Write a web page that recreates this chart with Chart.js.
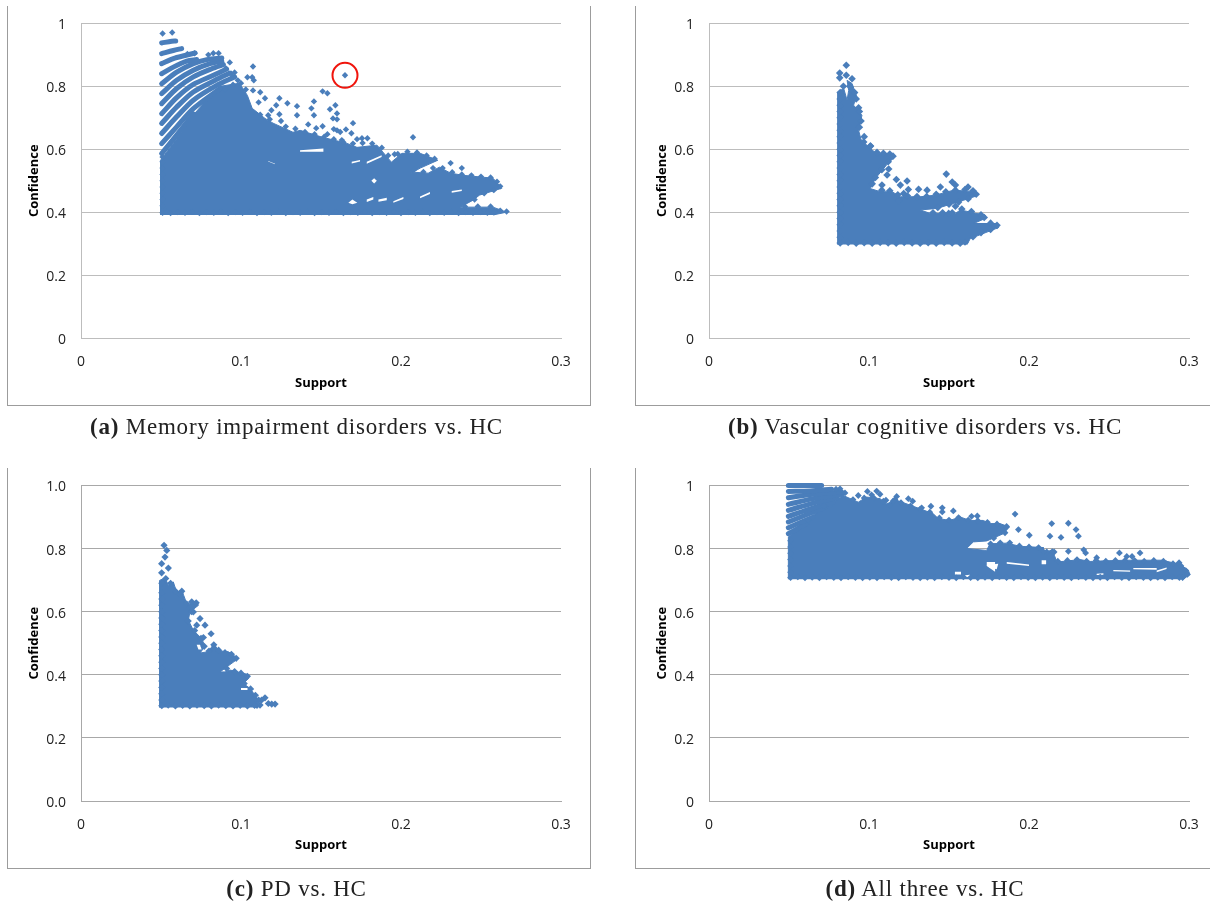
<!DOCTYPE html>
<html><head><meta charset="utf-8">
<script src="https://cdn.jsdelivr.net/npm/chart.js@4"></script>
<style>
html,body{margin:0;padding:0;background:#fff;width:1210px;height:901px;overflow:hidden}
.frame{position:absolute;box-sizing:border-box;border:1px solid #9c9c9c;border-top:none}
canvas{position:absolute}
.cap{position:absolute;text-align:center;font-family:"Liberation Serif",serif;font-size:23px;letter-spacing:.78px;color:#222;line-height:24px;white-space:nowrap}
</style></head><body>
<div class="frame" style="left:7px;top:6px;width:584px;height:400px"></div>
<div class="frame" style="left:635px;top:6px;width:580px;height:400px"></div>
<div class="frame" style="left:7px;top:468px;width:584px;height:401px"></div>
<div class="frame" style="left:635px;top:468px;width:580px;height:401px"></div>
<canvas id="a" width="600" height="420" style="left:0;top:0"></canvas>
<canvas id="b" width="600" height="420" style="left:628px;top:0"></canvas>
<canvas id="c" width="600" height="420" style="left:0;top:462px"></canvas>
<canvas id="d" width="600" height="420" style="left:628px;top:462px"></canvas>
<div class="cap" style="left:0;width:593px;top:415px"><b>(a)</b> Memory impairment disorders vs. HC</div>
<div class="cap" style="left:628px;width:594px;top:415px"><b>(b)</b> Vascular cognitive disorders vs. HC</div>
<div class="cap" style="left:0;width:593px;top:877px"><b>(c)</b> PD vs. HC</div>
<div class="cap" style="left:628px;width:594px;top:877px"><b>(d)</b> All three vs. HC</div>
<script>
const xTickLabels=['0','0.1','0.2','0.3'];
const yTickLabelsPlain=['0','0.2','0.4','0.6','0.8','1'];
const yTickLabelsFixed=['0.0','0.2','0.4','0.6','0.8','1.0'];
const circledRule=[[0.165,0.835]];

// Outline of the saturated part of each cloud [support, confidence]
const aMass=[[.0497,.391],[.0497,.565],[.06,.635],[.07,.708],[.08,.765],[.087,.8],[.099,.81],[.104,.771],[.107,.73],[.115,.698],[.12,.683],[.1325,.654],[.137,.66],[.151,.638],[.166,.619],[.1725,.606],[.185,.613],[.194,.559],[.2006,.587],[.212,.587],[.223,.565],[.212,.54],[.204,.517],[.2,.508],[.2075,.527],[.217,.524],[.224,.543],[.231,.524],[.239,.517],[.2575,.508],[.263,.476],[.249,.454],[.245,.438],[.237,.416],[.2575,.416],[.266,.4],[.2575,.391]];
const bMass=[[.0804,.297],[.0804,.724],[.0804,.782],[.0842,.793],[.0863,.756],[.0873,.787],[.0863,.819],[.0894,.809],[.0921,.771],[.0904,.74],[.0956,.708],[.0935,.66],[.095,.631],[.1008,.602],[.105,.586],[.1144,.586],[.1158,.574],[.1113,.552],[.104,.507],[.1008,.475],[.1071,.465],[.1144,.465],[.1196,.449],[.1321,.449],[.1415,.454],[.1529,.47],[.1665,.465],[.1675,.452],[.1592,.438],[.1425,.412],[.1321,.407],[.1383,.396],[.154,.396],[.1571,.407],[.1727,.39],[.1727,.38],[.1654,.364],[.18,.364],[.181,.351],[.1633,.316],[.1613,.297]];
const cMass=[[.0491,.296],[.0491,.678],[.0491,.699],[.0525,.707],[.0546,.684],[.0577,.694],[.0598,.662],[.0629,.668],[.065,.641],[.0661,.62],[.0723,.631],[.0734,.62],[.0681,.599],[.0671,.573],[.0702,.541],[.0754,.515],[.0775,.49],[.0744,.469],[.0796,.473],[.0831,.499],[.0859,.476],[.0921,.473],[.0973,.455],[.0963,.444],[.0869,.409],[.09,.409],[.0931,.415],[.1036,.402],[.1046,.388],[.1015,.372],[.1056,.357],[.1088,.335],[.1109,.32],[.1088,.296]];
const dMass=[[.0496,.703],[.0496,.837],[.061,.889],[.0714,.931],[.0839,.968],[.0933,.947],[.0985,.963],[.1069,.958],[.111,.942],[.1173,.953],[.1319,.926],[.1402,.91],[.1433,.895],[.1506,.889],[.1569,.9],[.1631,.889],[.1714,.889],[.1756,.879],[.1819,.879],[.1877,.868],[.184,.847],[.1736,.824],[.1652,.821],[.161,.8],[.1735,.794],[.1756,.815],[.1861,.817],[.1944,.807],[.209,.803],[.209,.789],[.2142,.794],[.2163,.773],[.2173,.757],[.2319,.765],[.2382,.759],[.2475,.761],[.2611,.763],[.283,.763],[.2944,.75],[.2996,.731],[.3006,.718],[.2965,.703]];

// Small empty pockets inside each cloud
const aHoles=[
[[.1369,.597],[.1515,.602],[.1515,.592],[.1369,.592]],
[[.1786,.56],[.1879,.581],[.1879,.575],[.1786,.554]],
[[.1815,.4995],[.1832,.508],[.1849,.4995],[.1832,.491]],
[[.1671,.43],[.1696,.44],[.1727,.43],[.1696,.425]],
[[.1786,.44],[.1827,.448],[.1827,.44],[.1786,.432]],
[[.1859,.44],[.1911,.446],[.1911,.438],[.1859,.433]],
[[.1952,.435],[.2015,.448],[.2015,.442],[.1952,.43]],
[[.2119,.45],[.2181,.464],[.2181,.458],[.2119,.444]],
[[.2317,.467],[.238,.472],[.238,.467],[.2317,.462]],
[[.1692,.56],[.1744,.566],[.1744,.561],[.1692,.555]],
[[.117,.563],[.1213,.554],[.1213,.552],[.117,.561]]];
const bHoles=[];
const cHoles=[
[[.0723,.495],[.0744,.495],[.0754,.48],[.0734,.48]],
[[.1,.358],[.1046,.358],[.1046,.352],[.1,.352]]];
const dHoles=[
[[.1736,.757],[.1788,.757],[.1788,.726],[.1736,.745]],
[[.1861,.757],[.2,.749],[.2,.745],[.1861,.752]],
[[.2079,.763],[.2107,.763],[.2107,.75],[.2079,.75]],
[[.2423,.72],[.2465,.722],[.2465,.717],[.2423,.716]],
[[.2527,.732],[.2632,.73],[.2632,.726],[.2527,.728]],
[[.2652,.738],[.2798,.738],[.2798,.733],[.2652,.734]],
[[.2798,.73],[.286,.74],[.286,.735],[.2798,.725]],
[[.1735,.748],[.1808,.752],[.1798,.734],[.1756,.74]],
[[.1537,.726],[.1575,.726],[.1575,.718],[.1537,.718]],
[[.16,.715],[.1631,.717],[.1631,.71],[.16,.71]]];

// Visible arcs of rules
const aArcs=[
[[.0504,.938],[.0567,.943],[.0592,.944]],
[[.0504,.904],[.0577,.914],[.0629,.92]],
[[.0504,.872],[.0577,.888],[.065,.898],[.0713,.906]],
[[.0504,.84],[.0577,.861],[.0661,.88],[.0723,.885]],
[[.0504,.808],[.0598,.845],[.0702,.872],[.0786,.885],[.088,.89]],
[[.0504,.777],[.0598,.819],[.0702,.851],[.0806,.872],[.088,.88]],
[[.0504,.745],[.0598,.793],[.0702,.83],[.0817,.856],[.089,.869]],
[[.0504,.713],[.0598,.764],[.0702,.806],[.0827,.835],[.091,.855]],
[[.0504,.682],[.0598,.734],[.0702,.782],[.0838,.819],[.093,.842]],
[[.0504,.65],[.0598,.703],[.0702,.756],[.0848,.803],[.096,.83]],
[[.0504,.618],[.0598,.671],[.0702,.729],[.0869,.793]],
[[.0504,.586],[.0598,.645],[.0702,.712]]];
const bArcs=[];
const cArcs=[];
const dArcs=[
[[.0496,1],[.0704,1]],
[[.0496,.981],[.0631,.982],[.0766,.988]],
[[.0496,.961],[.0652,.972],[.0829,.979]],
[[.0496,.94],[.0652,.958],[.0829,.972]],
[[.0496,.921],[.0652,.944],[.0798,.961]],
[[.0496,.902],[.0652,.929],[.0777,.947]],
[[.0496,.884],[.0652,.916],[.0756,.937]],
[[.0496,.866],[.0652,.9]],
[[.0496,.847],[.061,.879]]];

// Separate rules outside the saturated area
const aPoints=[[.051,.968],[.057,.971],[.0796,.9],[.0827,.905],[.086,.905],[.0665,.903],[.071,.905],[.093,.876],[.1075,.863],[.0906,.857],[.096,.844],[.094,.84],[.098,.819],[.104,.829],[.107,.829],[.108,.819],[.165,.835],[.151,.784],[.154,.778],[.1456,.752],[.159,.74],[.1556,.727],[.16,.714],[.144,.73],[.1456,.708],[.1575,.698],[.16,.695],[.17,.683],[.1656,.663],[.169,.651],[.124,.762],[.129,.746],[.135,.737],[.122,.74],[.119,.724],[.124,.711],[.135,.708],[.115,.762],[.112,.781],[.1075,.787],[.117,.708],[.111,.749],[.142,.679],[.147,.667],[.151,.673],[.154,.648],[.16,.66],[.163,.629],[.1725,.632],[.1756,.635],[.179,.635],[.2075,.638],[.231,.556],[.238,.54],[.196,.584],[.158,.664],[.162,.655]];
const bPoints=[[.0858,.867],[.0817,.842],[.0817,.827],[.0858,.835],[.0894,.824],[.0935,.732],[.0967,.623],[.1008,.61],[.1123,.537],[.1113,.518],[.1171,.504],[.1081,.486],[.1238,.499],[.1196,.486],[.1483,.521],[.152,.496],[.1446,.48],[.154,.486],[.1619,.48],[.131,.473],[.1363,.47],[.1246,.472],[.1217,.459],[.1185,.436],[.154,.419],[.1498,.396]];
const cPoints=[[.0519,.81],[.0536,.794],[.0525,.773],[.0504,.752],[.0546,.738],[.0504,.723],[.0619,.657],[.0692,.631],[.0702,.599],[.0744,.578],[.0723,.557],[.0775,.557],[.0813,.53],[.0765,.518],[.115,.327],[.1129,.32],[.1192,.307],[.1171,.309],[.1213,.307],[.1119,.304]];
const dPoints=[[.099,.981],[.1048,.982],[.0933,.968],[.1016,.97],[.1069,.972],[.1106,.953],[.1173,.965],[.1162,.955],[.1246,.958],[.1273,.95],[.1131,.937],[.1387,.934],[.1329,.929],[.1458,.929],[.1458,.916],[.1527,.919],[.1641,.902],[.1677,.903],[.085,.976],[.0819,.989],[.0794,.988],[.1913,.909],[.1934,.86],[.2002,.842],[.2142,.879],[.2246,.88],[.2294,.86],[.2131,.839],[.22,.835],[.2309,.839],[.2246,.791],[.2342,.796],[.2354,.786],[.2423,.771],[.2565,.786],[.2611,.775],[.2644,.775],[.2694,.786],[.2938,.755],[.2857,.752],[.2111,.789],[.2157,.789]];

// Rules along the rim of each cloud
const aRim=[[.112,.71],[.118,.695],[.125,.69],[.128,.672],[.134,.665],[.14,.655],[.146,.648],[.152,.64],[.158,.632],[.164,.622],[.17,.618],[.176,.62],[.182,.618],[.188,.605],[.192,.58],[.198,.585],[.204,.592],[.21,.59],[.216,.58],[.221,.57],[.208,.535],[.214,.528],[.22,.54],[.226,.54],[.232,.527],[.238,.52],[.244,.517],[.25,.513],[.256,.51],[.26,.497],[.262,.482],[.258,.47],[.252,.46],[.246,.44],[.24,.418],[.248,.418],[.256,.418],[.262,.405],[.266,.402],[.09,.79],[.095,.805],[.1,.81],[.103,.79],
[.051,.398],[.0535,.401],[.056,.397],[.0605,.4],[.065,.398],[.0695,.401],[.074,.397],[.0785,.4],[.083,.398],[.0875,.401],[.092,.397],[.0965,.4],[.101,.398],[.1055,.401],[.11,.397],[.1145,.4],[.119,.398],[.1235,.401],[.128,.397],[.1325,.4],[.137,.398],[.1415,.401],[.146,.397],[.1505,.4],[.155,.398],[.1595,.401],[.164,.397],[.1685,.4],[.173,.398],[.1775,.401],[.182,.397],[.1865,.4],[.191,.398],[.1955,.401],[.2,.397],[.2045,.4],[.209,.398],[.2135,.401],[.218,.397],[.2225,.4],[.227,.398],[.2315,.401],[.236,.397],[.2405,.4],[.245,.398],[.2495,.4],[.254,.398],[.2585,.4],
[.051,.42],[.051,.44],[.051,.46],[.051,.48],[.051,.5],[.051,.52],[.051,.54],[.051,.56],[.051,.575]];
const bRim=[[.084,.8],[.088,.8],[.091,.78],[.092,.76],[.094,.72],[.095,.69],[.094,.67],[.097,.64],[.101,.61],[.105,.59],[.109,.587],[.113,.585],[.115,.578],[.112,.56],[.108,.535],[.104,.51],[.102,.49],[.108,.47],[.113,.468],[.118,.455],[.124,.452],[.13,.45],[.136,.45],[.142,.457],[.148,.465],[.154,.47],[.16,.472],[.165,.468],[.167,.457],[.162,.443],[.156,.432],[.15,.425],[.143,.415],[.14,.398],[.146,.398],[.152,.398],[.158,.41],[.164,.402],[.17,.392],[.172,.383],[.176,.365],[.18,.358],[.176,.345],[.17,.335],[.165,.322],[.16,.305],
[.082,.302],[.087,.304],[.092,.301],[.097,.303],[.102,.301],[.107,.304],[.112,.302],[.117,.301],[.122,.304],[.127,.302],[.132,.301],[.137,.303],[.142,.301],[.147,.304],[.152,.302],[.157,.301],
[.082,.32],[.082,.34],[.082,.36],[.082,.38],[.082,.4],[.082,.42],[.082,.44],[.082,.46],[.082,.48],[.082,.5],[.082,.52],[.082,.54],[.082,.56],[.082,.58],[.082,.6],[.082,.62],[.082,.64],[.082,.66],[.082,.68],[.082,.7],[.082,.72],[.082,.74],[.082,.76],[.082,.78]];
const cRim=[[.0505,.69],[.053,.705],[.056,.69],[.059,.665],[.063,.665],[.066,.625],[.072,.628],[.069,.6],[.067,.57],[.071,.54],[.075,.515],[.077,.49],[.08,.475],[.083,.495],[.086,.478],[.09,.47],[.094,.465],[.097,.452],[.091,.42],[.096,.41],[.1,.405],[.104,.395],[.102,.372],[.106,.355],[.109,.335],[.111,.32],[.11,.303],
[.0505,.302],[.0545,.304],[.059,.301],[.0635,.303],[.068,.301],[.0725,.304],[.077,.302],[.0815,.301],[.086,.304],[.0905,.302],[.095,.301],[.0995,.303],[.104,.301],[.1085,.303],
[.0505,.32],[.0505,.34],[.0505,.36],[.0505,.38],[.0505,.4],[.0505,.42],[.0505,.44],[.0505,.46],[.0505,.48],[.0505,.5],[.0505,.52],[.0505,.54],[.0505,.56],[.0505,.58],[.0505,.6],[.0505,.62],[.0505,.64],[.0505,.66]];
const dRim=[[.062,.89],[.072,.935],[.09,.955],[.097,.96],[.103,.96],[.109,.95],[.115,.95],[.12,.945],[.126,.935],[.132,.925],[.138,.915],[.144,.897],[.15,.89],[.156,.898],[.162,.89],[.168,.888],[.174,.883],[.18,.878],[.186,.87],[.185,.85],[.178,.833],[.176,.815],[.182,.818],[.188,.818],[.194,.808],[.2,.805],[.206,.803],[.209,.79],[.2145,.79],[.218,.76],[.224,.762],[.23,.765],[.236,.76],[.242,.762],[.248,.76],[.254,.762],[.26,.762],[.266,.762],[.272,.76],[.278,.762],[.284,.76],[.29,.752],[.295,.745],[.298,.73],[.299,.718],[.296,.708],
[.051,.708],[.0555,.71],[.06,.707],[.0645,.709],[.069,.707],[.0735,.71],[.078,.708],[.0825,.707],[.087,.71],[.0915,.708],[.096,.707],[.1005,.709],[.105,.707],[.1095,.71],[.114,.708],[.1185,.707],[.123,.71],[.1275,.708],[.132,.707],[.1365,.709],[.141,.707],[.1455,.71],[.15,.708],[.1545,.707],[.159,.71],[.1635,.708],[.168,.707],[.1725,.709],[.177,.707],[.1815,.71],[.186,.708],[.1905,.707],[.195,.71],[.1995,.708],[.204,.707],[.2085,.709],[.213,.707],[.2175,.71],[.222,.708],[.2265,.707],[.231,.71],[.2355,.708],[.24,.707],[.2445,.709],[.249,.707],[.2535,.71],[.258,.708],[.2625,.707],[.267,.71],[.2715,.708],[.276,.707],[.2805,.709],[.285,.707],[.2895,.71],[.294,.708],
[.051,.725],[.051,.745],[.051,.765],[.051,.785],[.051,.805],[.051,.825]];

const BLUE='#4a7ebb';
const TICKFONT='"Open Sans"', TITLEFONT='"Open Sans"';

function build(id,mass,holes,arcs,points,rim,yLabels,extra,plot){
  // The first dataset is painted last, so the order here runs from top to bottom.
  const datasets=[
    ...extra,
    {data:points.concat(rim),showLine:false,pointStyle:'rectRot',pointRadius:plot.r,backgroundColor:BLUE,borderWidth:0,clip:false},
    ...arcs.map(a=>({data:a,showLine:true,fill:false,borderColor:BLUE,borderWidth:5,borderCapStyle:'round',borderJoinStyle:'round',tension:.3,pointRadius:0,clip:false})),
    ...holes.map(h=>({data:h,showLine:true,fill:'shape',backgroundColor:'#ffffff',borderColor:'#ffffff',borderWidth:0,pointRadius:0,clip:false})),
    {data:mass,showLine:true,fill:'shape',backgroundColor:BLUE,borderColor:BLUE,borderWidth:1,pointRadius:0,clip:false}
  ];
  new Chart(document.getElementById(id),{type:'scatter',data:{datasets},options:{
    responsive:false,animation:false,events:[],
    layout:{padding:{top:plot.top,right:39,left:0,bottom:0}},
    plugins:{legend:{display:false},tooltip:{enabled:false},title:{display:false}},
    scales:{
      x:{type:'linear',min:0,max:.3,
        afterFit(s){s.height=420-plot.bottom},
        grid:{display:false,drawTicks:false},
        border:{display:true,color:plot.grid,width:1},
        ticks:{stepSize:.1,padding:16,maxRotation:0,autoSkip:false,color:'#222',font:{family:TICKFONT,size:14},
          callback:(v,i)=>xTickLabels[i]},
        title:{display:true,text:'Support',color:'#000',font:{family:TITLEFONT,size:13,weight:'bold'},padding:{top:0,bottom:29}}},
      y:{type:'linear',min:0,max:1,
        afterFit(s){s.width=81},
        grid:{color:plot.grid,lineWidth:1,drawTicks:false},
        border:{display:true,color:plot.grid,width:1},
        ticks:{stepSize:.2,padding:15,labelOffset:2,autoSkip:false,color:'#222',font:{family:TICKFONT,size:14},
          callback:(v,i)=>yLabels[i]},
        title:{display:true,text:'Confidence',color:'#000',font:{family:TITLEFONT,size:13,weight:'bold'},padding:{top:26,bottom:0}}}
    }}});
}
const ring=[{data:circledRule,showLine:false,pointStyle:'circle',pointRadius:12.5,backgroundColor:'rgba(0,0,0,0)',borderColor:'#f0140c',borderWidth:2,clip:false}];
build('a',aMass,aHoles,aArcs,aPoints,aRim,yTickLabelsPlain,ring,{top:23,bottom:338,r:3.2,grid:'#bdbdbd'});
build('b',bMass,bHoles,bArcs,bPoints,bRim,yTickLabelsPlain,[],{top:23,bottom:338,r:3.8,grid:'#bdbdbd'});
build('c',cMass,cHoles,cArcs,cPoints,cRim,yTickLabelsFixed,[],{top:23,bottom:339,r:3.6,grid:'#a8a8a8'});
build('d',dMass,dHoles,dArcs,dPoints,dRim,yTickLabelsPlain,[],{top:23,bottom:339,r:3.4,grid:'#a8a8a8'});
</script></body></html>
